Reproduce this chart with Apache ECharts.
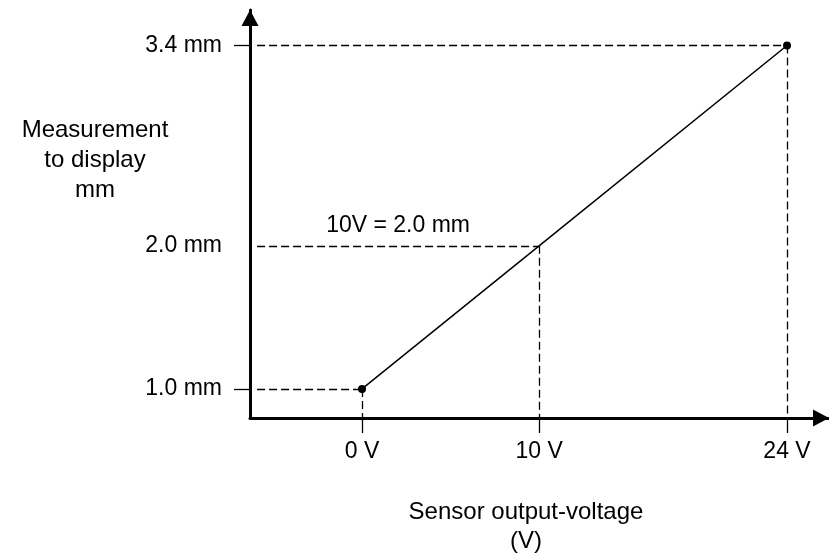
<!DOCTYPE html>
<html>
<head>
<meta charset="utf-8">
<script src="https://cdn.jsdelivr.net/npm/echarts@6/dist/echarts.min.js"></script>
<style>
  html, body { margin: 0; padding: 0; background: #fff; }
  #chart { width: 829px; height: 556px; }
</style>
</head>
<body>
<div id="chart"></div>
<script>
// Sensor transfer characteristic: output voltage -> displayed measurement
const voltages = [0, 10, 24];          // V
const measurements = [1.0, 2.0, 3.4];  // mm
const markedPoints = [true, false, true]; // dots drawn at the end points only
const xTickValues = [0, 10, 24];
const yLabelValues = [1.0, 2.0, 3.4];
const yTickValues = [1.0, 3.4];
const noteText = '10V = 2.0 mm';
const yTitle = 'Measurement\nto display\nmm';
const xTitle = 'Sensor output-voltage\n(V)';

const X_MIN = -6.325, X_MAX = 26.37;
const Y_MIN = 0.797, Y_MAX = 3.648;
const GUIDE_GAP = 0.4; // horizontal guides stop just short of the y axis
const FONT = 'Liberation Sans, Arial, sans-serif';

const chart = echarts.init(document.getElementById('chart'), null, { renderer: 'canvas' });

const lineData = voltages.map((v, i) => ({
  value: [v, measurements[i]],
  symbol: markedPoints[i] ? 'circle' : 'none'
}));

const dashStyle = { color: '#000', width: 1.3, type: [8, 4] };

// dashed guides from each point to both axes
const guides = [];
voltages.forEach((v, i) => {
  const m = measurements[i];
  guides.push([{ coord: [X_MIN + GUIDE_GAP, m] }, { coord: [v, m] }]);
  guides.push([{ coord: [v, m] }, { coord: [v, Y_MIN] }]);
});
// the 10 V guide carries the note above it
const noteIdx = voltages.indexOf(10) * 2;
guides[noteIdx][0].label = {
  show: true, position: 'insideMiddleTop', formatter: noteText,
  color: '#000', fontFamily: FONT, fontSize: 23, distance: 9
};

// thick axes ending in solid arrow heads whose tips sit at the axis ends
const axisLine = {
  show: true, onZero: false,
  symbol: ['none', 'triangle'], symbolSize: [17, 16], symbolOffset: [0, -8],
  lineStyle: { color: '#000', width: 3 }
};

chart.setOption({
  animation: false,
  grid: { left: 250, right: 0, top: 10, bottom: 138 },
  xAxis: {
    type: 'value', min: X_MIN, max: X_MAX,
    splitLine: { show: false },
    axisLine: axisLine,
    axisTick: { show: true, customValues: xTickValues, length: 15, lineStyle: { color: '#000', width: 1.3 } },
    axisLabel: {
      show: true, customValues: xTickValues, margin: 22,
      formatter: v => v + ' V', color: '#000', fontFamily: FONT, fontSize: 23
    }
  },
  yAxis: {
    type: 'value', min: Y_MIN, max: Y_MAX,
    splitLine: { show: false },
    axisLine: axisLine,
    axisTick: { show: true, customValues: yTickValues, length: 16, lineStyle: { color: '#000', width: 1.3 } },
    axisLabel: {
      show: true, customValues: yLabelValues, margin: 28,
      formatter: v => v.toFixed(1) + ' mm', color: '#000', fontFamily: FONT, fontSize: 23
    }
  },
  series: [{
    type: 'line',
    data: lineData,
    symbolSize: 8,
    itemStyle: { color: '#000' },
    lineStyle: { color: '#000', width: 1.5 },
    markLine: {
      silent: true, symbol: ['none', 'none'],
      lineStyle: dashStyle, label: { show: false },
      data: guides
    },
    z: 3
  }],
  graphic: [
    {
      type: 'text', x: 95, y: 115,
      style: { text: yTitle, textAlign: 'center', textVerticalAlign: 'top',
               font: '24px ' + FONT, fill: '#000', lineHeight: 30 }
    },
    {
      type: 'text', x: 526, y: 498,
      style: { text: xTitle, textAlign: 'center', textVerticalAlign: 'top',
               font: '24px ' + FONT, fill: '#000', lineHeight: 29 }
    }
  ]
});
</script>
</body>
</html>
